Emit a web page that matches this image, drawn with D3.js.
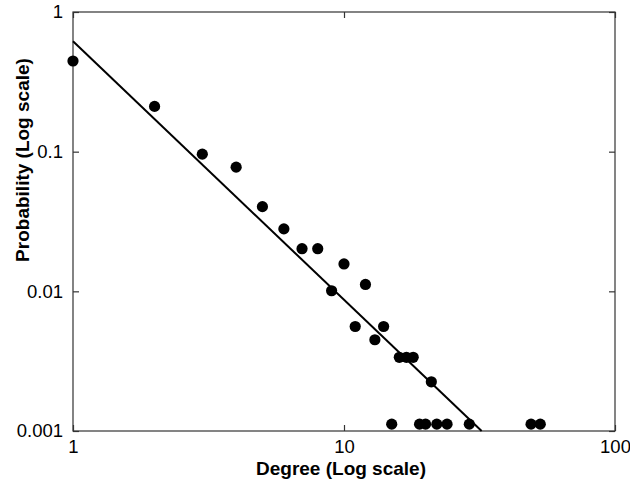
<!DOCTYPE html>
<html>
<head>
<meta charset="utf-8">
<script src="https://cdn.jsdelivr.net/npm/d3@7"></script>
<style>
  body { margin: 0; background: #fff; }
  text { font-family: Arial, "Liberation Sans", sans-serif; fill: #000; }
</style>
</head>
<body>
<div id="chart"></div>
<script>
// degree distribution
const degree = [1, 2, 3, 4, 5, 6, 7, 8, 9, 10, 11, 12, 13, 14, 15, 16, 17, 18, 19, 20, 21, 22, 24, 29, 49, 53];
const prob = [0.446, 0.211, 0.096, 0.0775, 0.0404, 0.028, 0.0202, 0.0202, 0.0101, 0.0157,
              0.0056, 0.0112, 0.0045, 0.0056, 0.00112, 0.00337, 0.00337, 0.00337, 0.00112, 0.00112,
              0.00225, 0.00112, 0.00112, 0.00112, 0.00112, 0.00112];

// fitted power-law line, two ends
const fitX = [1, 32.2];
const fitY = [0.617, 0.001];

const xTicks = [1, 10, 100];
const yTicks = [1, 0.1, 0.01, 0.001];

const width = 630, height = 484;
const m = { left: 73, right: 615, top: 12, bottom: 431 };

const svg = d3.select("#chart")
    .append("svg")
    .attr("width", width)
    .attr("height", height)

const x = d3.scaleLog().domain([1, 100]).range([m.left, m.right])
const y = d3.scaleLog().domain([0.001, 1]).range([m.bottom, m.top])

const axisColor = "#333"

// frame
svg.append("rect")
    .attr("x", m.left).attr("y", m.top)
    .attr("width", m.right - m.left).attr("height", m.bottom - m.top)
    .attr("fill", "none")
    .attr("stroke", axisColor)
    .attr("stroke-width", 1.2)

// ticks, inward on all four sides
const fmt = d => String(d)
svg.append("g")
    .attr("transform", `translate(0,${m.bottom})`)
    .call(d3.axisBottom(x).tickValues(xTicks).tickFormat(fmt).tickSizeInner(-6).tickSizeOuter(0).tickPadding(9))
svg.append("g")
    .attr("transform", `translate(0,${m.top})`)
    .call(d3.axisTop(x).tickValues(xTicks).tickFormat("").tickSizeInner(-6).tickSizeOuter(0))
svg.append("g")
    .attr("transform", `translate(${m.left},0)`)
    .call(d3.axisLeft(y).tickValues(yTicks).tickFormat(fmt).tickSizeInner(-6).tickSizeOuter(0).tickPadding(10))
svg.append("g")
    .attr("transform", `translate(${m.right},0)`)
    .call(d3.axisRight(y).tickValues(yTicks).tickFormat("").tickSizeInner(-6).tickSizeOuter(0))

svg.selectAll(".domain").remove()
svg.selectAll(".tick line").attr("stroke", axisColor).attr("stroke-width", 1.2)
svg.selectAll(".tick text")
    .style("font-size", "18.5px")
    .style("font-family", "Arial, 'Liberation Sans', sans-serif")
    .attr("fill", "#000")

// fit line
svg.append("line")
    .attr("x1", x(fitX[0])).attr("y1", y(fitY[0]))
    .attr("x2", x(fitX[1])).attr("y2", y(fitY[1]))
    .attr("stroke", "#000")
    .attr("stroke-width", 2)

// points
svg.append("g")
    .selectAll("circle")
    .data(degree)
    .join("circle")
    .attr("cx", d => x(d))
    .attr("cy", (d, i) => y(prob[i]))
    .attr("r", 5.6)
    .attr("fill", "#000")

// axis labels
svg.append("text")
    .attr("x", 341)
    .attr("y", 475)
    .attr("text-anchor", "middle")
    .style("font-size", "19px")
    .style("font-weight", "bold")
    .text("Degree (Log scale)")

svg.append("text")
    .attr("transform", "translate(29,160) rotate(-90)")
    .attr("text-anchor", "middle")
    .style("font-size", "19px")
    .style("font-weight", "bold")
    .text("Probability (Log scale)")
</script>
</body>
</html>
